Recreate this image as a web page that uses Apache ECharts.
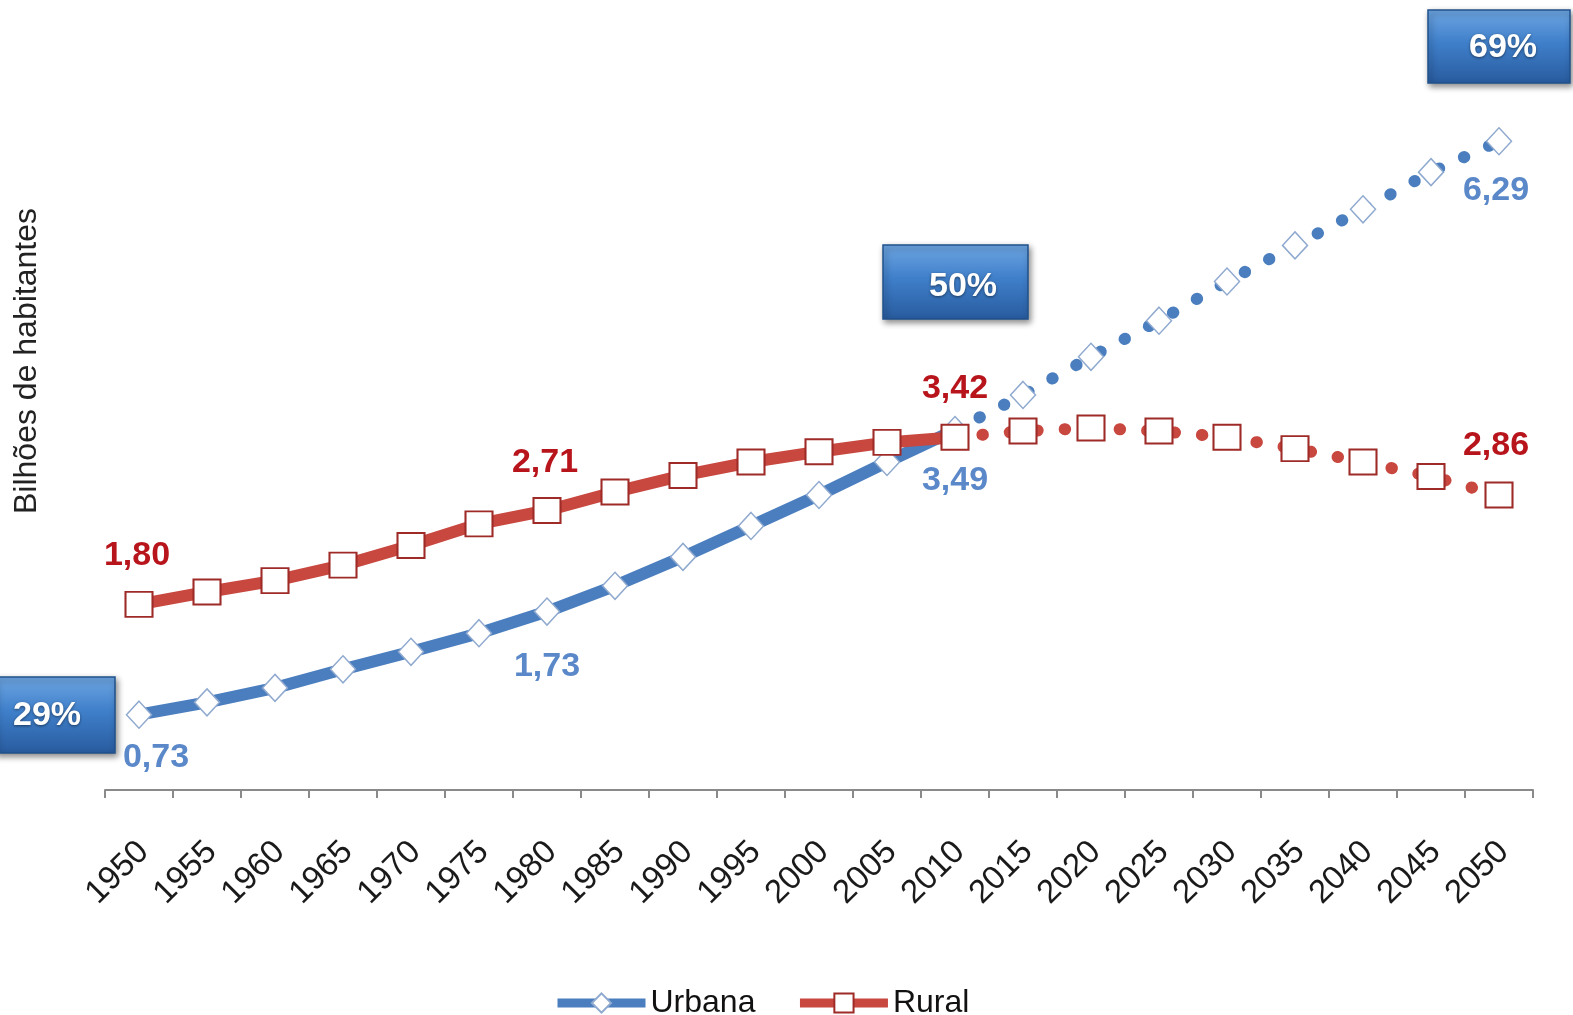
<!DOCTYPE html>
<html><head><meta charset="utf-8">
<script src="https://cdn.jsdelivr.net/npm/echarts@6/dist/echarts.min.js"></script>
<style>html,body{margin:0;padding:0;background:#fff}#c{width:1573px;height:1015px}</style>
</head><body><div id="c"></div>
<script>
const years = ['1950','1955','1960','1965','1970','1975','1980','1985','1990','1995','2000','2005','2010','2015','2020','2025','2030','2035','2040','2045','2050'];
const urbana = [0.73,0.85,0.99,1.17,1.34,1.52,1.73,1.98,2.26,2.56,2.86,3.18,3.49,3.83,4.20,4.55,4.93,5.28,5.63,5.99,6.29];
const rural = [1.80,1.92,2.03,2.18,2.37,2.58,2.71,2.89,3.05,3.18,3.28,3.37,3.42,3.48,3.51,3.48,3.42,3.31,3.18,3.04,2.86];
const splitIndex = 12; // 2010: observed data -> projection
const shareLabels = ['29%','50%','69%'];
const urbanaLabelIdx = [0,6,12,20];
const ruralLabelIdx = [0,6,12,20];
const yTitle = 'Bilhões de habitantes';

const FONT = "'Liberation Sans', Arial, sans-serif";
const BLUE = '#4a7ebf', RED = '#c8473f';
const BLUE_TXT = '#5a88c9', RED_TXT = '#b8141b';

const urbOff = {0:[17,43], 6:[0,55], 12:[0,51], 20:[-3,49]};
const rurOff = {0:[-2,-49], 6:[-2,-48], 12:[0,-49], 20:[-3,-49]};

function fmt(v){ return v.toFixed(2).replace('.', ','); }

function build(arr, from, to, labelIdx, offs, color, hideFirst){
  return arr.map((v,i)=>{
    if(i<from || i>to) return null;
    const item = {value:v};
    if(hideFirst && i===from) item.symbol = 'none';
    if(labelIdx.indexOf(i)>=0 && !(hideFirst && i===from)){
      item.label = {show:true, position:'inside', offset:offs[i], formatter: fmt(v),
        color: color, fontSize: 34, fontWeight:'bold', fontFamily: FONT};
    }
    return item;
  });
}

const urbMarker = {color:'#ffffff', borderColor:'#8fa9cf', borderWidth:1.5};
const rurMarker = {color:'#ffffff', borderColor:'#9e2b27', borderWidth:2};

const series = [
  {name:'Urbana', type:'line', data: build(urbana,0,splitIndex,urbanaLabelIdx,urbOff,BLUE_TXT,false),
   symbol:'diamond', symbolSize:[25,27], lineStyle:{color:BLUE,width:12}, itemStyle:urbMarker, color:BLUE},
  {name:'Urbana', type:'line', data: build(urbana,splitIndex,20,urbanaLabelIdx,urbOff,BLUE_TXT,true),
   symbol:'diamond', symbolSize:[25,27], lineStyle:{color:BLUE,width:12,type:[0.5,27],cap:'round'}, itemStyle:urbMarker, color:BLUE},
  {name:'Rural', type:'line', data: build(rural,0,splitIndex,ruralLabelIdx,rurOff,RED_TXT,false),
   symbol:'rect', symbolSize:[27,25], lineStyle:{color:RED,width:12}, itemStyle:rurMarker, color:RED},
  {name:'Rural', type:'line', data: build(rural,splitIndex,20,ruralLabelIdx,rurOff,RED_TXT,true),
   symbol:'rect', symbolSize:[27,25], lineStyle:{color:RED,width:12,type:[0.5,27],cap:'round'}, itemStyle:rurMarker, color:RED}
];

function box(x,y,w,h,tx,ty,text){
  return {type:'group', children:[
    {type:'rect', shape:{x:x,y:y,width:w,height:h},
     style:{fill:{type:'linear',x:0,y:0,x2:0,y2:1,colorStops:[{offset:0,color:'#6ea6e2'},{offset:0.45,color:'#3f7fca'},{offset:1,color:'#285b9e'}]},
       stroke:'#21518c', lineWidth:1.5, shadowBlur:6, shadowColor:'rgba(0,0,0,0.45)', shadowOffsetX:2, shadowOffsetY:3}},
    {type:'text', x:tx, y:ty, style:{text:text, fill:'#ffffff', font:'bold 34px '+FONT, align:'center', verticalAlign:'middle',
       textShadowColor:'rgba(0,0,0,0.5)', textShadowBlur:3, textShadowOffsetY:1}}
  ]};
}

const chart = echarts.init(document.getElementById('c'));
chart.setOption({
  animation:false,
  backgroundColor:'#ffffff',
  grid:{left:105, right:40, top:68, bottom:225},
  legend:{data:['Urbana','Rural'], left:548, top:982, itemWidth:88, itemHeight:24, itemGap:40,
    lineStyle:{width:9}, textStyle:{fontSize:32, color:'#111', fontFamily:FONT}},
  xAxis:{type:'category', data:years, boundaryGap:true,
    axisLine:{lineStyle:{color:'#8a8a8a', width:2}},
    axisTick:{show:true, interval:0, length:8, lineStyle:{color:'#8a8a8a', width:2}},
    axisLabel:{interval:0, rotate:45, fontSize:33, color:'#1a1a1a', fontFamily:FONT, margin:38, verticalAlign:'top', padding:[0,10,0,0]}},
  yAxis:{type:'value', min:0, max:7, axisLine:{show:false}, axisTick:{show:false}, axisLabel:{show:false}, splitLine:{show:false}},
  series: series,
  graphic: [
    {type:'text', x:27, y:361, rotation:Math.PI/2, style:{text:yTitle, fill:'#222', font:'32px '+FONT, align:'center', verticalAlign:'middle'}},
    box(-5,677,120,76,47,716,shareLabels[0]),
    box(883,245,145,74,963,287,shareLabels[1]),
    box(1428,10,142,73,1503,48,shareLabels[2])
  ]
});
</script></body></html>
